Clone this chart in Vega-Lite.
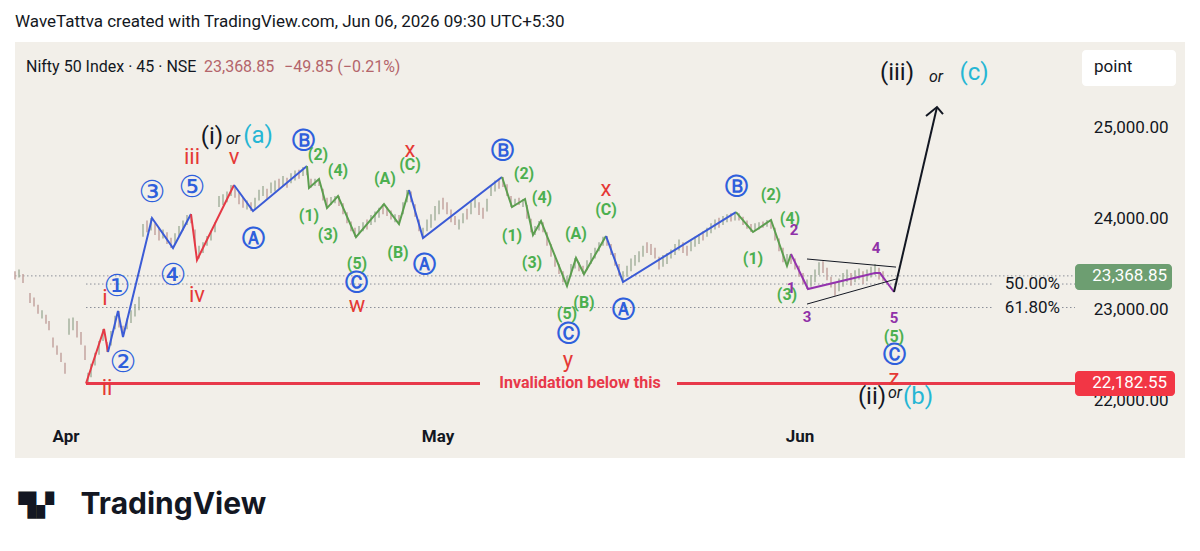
{
  "$schema": "https://vega.github.io/schema/vega-lite/v6.json",
  "autosize": {"type": "none"},
  "width": 1170,
  "height": 416,
  "padding": {"left": 15, "top": 42, "right": 15, "bottom": 93},
  "background": "#ffffff",
  "title": {
    "text": "WaveTattva created with TradingView.com, Jun 06, 2026 09:30 UTC+5:30",
    "anchor": "start",
    "frame": "group",
    "font": "Roboto",
    "fontSize": 17,
    "fontWeight": "normal",
    "color": "#131722",
    "offset": 11
  },
  "config": {
    "view": {"fill": "#f2efe9", "stroke": null},
    "font": "Roboto",
    "axis": {"grid": false}
  },
  "resolve": {"scale": {"color": "independent"}, "axis": {"x": "independent", "y": "independent"}},
  "datasets": {
    "levels": [
      {"p": 23368.85, "t1": 0, "t2": 530},
      {"p": 23279, "t1": 35.5, "t2": 488.5},
      {"p": 23279, "t1": 523.5, "t2": 530},
      {"p": 23020, "t1": 35.5, "t2": 488.5},
      {"p": 23020, "t1": 523.5, "t2": 530}
    ],
    "inval": [
      {"p": 22182.55, "t1": 35.5, "t2": 232.5},
      {"p": 22182.55, "t1": 331, "t2": 530}
    ],
    "months": [
      {"t": 25.5, "m": "Apr"},
      {"t": 211.5, "m": "May"},
      {"t": 392.5, "m": "Jun"}
    ],
    "bars": [
      {"t":0,"l":23330,"h":23420,"u":0},{"t":2,"l":23350,"h":23440,"u":1},{"t":4,"l":23290,"h":23390,"u":0},
      {"t":7.5,"l":23070,"h":23180,"u":0},{"t":9.5,"l":23030,"h":23130,"u":0},{"t":11.5,"l":22950,"h":23050,"u":0},
      {"t":13.5,"l":22900,"h":22990,"u":1},{"t":15.5,"l":22840,"h":22940,"u":0},{"t":17,"l":22770,"h":22870,"u":0},
      {"t":19,"l":22580,"h":22690,"u":0},{"t":21,"l":22500,"h":22600,"u":0},{"t":23,"l":22420,"h":22520,"u":0},
      {"t":25,"l":22290,"h":22410,"u":0},{"t":27,"l":22720,"h":22900,"u":1},{"t":29,"l":22770,"h":22910,"u":1},
      {"t":31,"l":22690,"h":22870,"u":0},{"t":33,"l":22610,"h":22750,"u":0},{"t":35,"l":22440,"h":22600,"u":0},
      {"t":36.5,"l":22182,"h":22300,"u":1},{"t":38,"l":22250,"h":22400,"u":1},{"t":40,"l":22380,"h":22520,"u":1},
      {"t":42,"l":22500,"h":22650,"u":1},{"t":44,"l":22650,"h":22783,"u":1},{"t":46,"l":22529,"h":22640,"u":0},
      {"t":48,"l":22600,"h":22760,"u":1},{"t":50,"l":22780,"h":22930,"u":1},{"t":52,"l":22800,"h":22981,"u":0},
      {"t":54,"l":22694,"h":22820,"u":0},{"t":56,"l":22780,"h":22900,"u":1},{"t":58,"l":22850,"h":22990,"u":1},
      {"t":60,"l":22920,"h":23060,"u":1},{"t":62,"l":22990,"h":23140,"u":1},{"t":64,"l":23800,"h":23940,"u":1},
      {"t":66,"l":23850,"h":23980,"u":0},{"t":68,"l":23870,"h":24007,"u":1},{"t":70,"l":23820,"h":23950,"u":0},
      {"t":72,"l":23760,"h":23900,"u":0},{"t":74,"l":23780,"h":23880,"u":1},{"t":76,"l":23720,"h":23850,"u":0},
      {"t":78,"l":23676,"h":23790,"u":0},{"t":80,"l":23720,"h":23840,"u":1},{"t":82,"l":23800,"h":23920,"u":1},
      {"t":84,"l":23870,"h":23980,"u":1},{"t":86,"l":23930,"h":24040,"u":1},{"t":88,"l":23950,"h":24051,"u":0},
      {"t":90,"l":23700,"h":23880,"u":0},{"t":92,"l":23560,"h":23700,"u":1},{"t":94,"l":23620,"h":23740,"u":1},
      {"t":96,"l":23700,"h":23810,"u":1},{"t":98,"l":23760,"h":23870,"u":1},{"t":100,"l":23850,"h":23960,"u":1},
      {"t":102,"l":24130,"h":24250,"u":1},{"t":104,"l":24150,"h":24270,"u":1},{"t":106,"l":24180,"h":24300,"u":1},
      {"t":108,"l":24250,"h":24371,"u":1},{"t":110,"l":24230,"h":24350,"u":0},{"t":112,"l":24160,"h":24290,"u":0},
      {"t":114,"l":24120,"h":24240,"u":0},{"t":116,"l":24100,"h":24200,"u":1},{"t":118,"l":24084,"h":24180,"u":0},
      {"t":120,"l":24110,"h":24230,"u":1},{"t":122,"l":24200,"h":24320,"u":1},{"t":124,"l":24250,"h":24360,"u":1},
      {"t":126,"l":24220,"h":24330,"u":0},{"t":128,"l":24280,"h":24400,"u":1},{"t":130,"l":24300,"h":24420,"u":1},
      {"t":132,"l":24330,"h":24440,"u":0},{"t":134,"l":24360,"h":24470,"u":1},{"t":136,"l":24340,"h":24450,"u":0},
      {"t":138,"l":24390,"h":24500,"u":1},{"t":140,"l":24420,"h":24530,"u":1},{"t":142,"l":24440,"h":24540,"u":0},
      {"t":144,"l":24470,"h":24570,"u":1},{"t":146,"l":24480,"h":24581,"u":0},{"t":148,"l":24340,"h":24440,"u":0},
      {"t":150,"l":24360,"h":24440,"u":1},{"t":152,"l":24360,"h":24437,"u":0},{"t":154,"l":24200,"h":24330,"u":0},
      {"t":156,"l":24117,"h":24230,"u":0},{"t":158,"l":24150,"h":24240,"u":1},{"t":160,"l":24170,"h":24250,"u":1},
      {"t":162,"l":24140,"h":24250,"u":0},{"t":164,"l":24050,"h":24170,"u":0},{"t":166,"l":23950,"h":24070,"u":0},
      {"t":168,"l":23860,"h":23970,"u":0},{"t":170,"l":23797,"h":23900,"u":0},{"t":172,"l":23830,"h":23920,"u":1},
      {"t":174,"l":23860,"h":23960,"u":1},{"t":176,"l":23880,"h":23990,"u":0},{"t":178,"l":23930,"h":24040,"u":1},
      {"t":180,"l":23960,"h":24080,"u":1},{"t":182,"l":24010,"h":24120,"u":1},{"t":184,"l":24050,"h":24161,"u":0},
      {"t":186,"l":24030,"h":24130,"u":0},{"t":188,"l":23990,"h":24090,"u":0},{"t":190,"l":23960,"h":24050,"u":1},
      {"t":192,"l":23941,"h":24040,"u":0},{"t":194,"l":24050,"h":24180,"u":1},{"t":196,"l":24180,"h":24316,"u":1},
      {"t":198,"l":24180,"h":24300,"u":0},{"t":200,"l":24020,"h":24160,"u":0},{"t":202,"l":23860,"h":23990,"u":0},
      {"t":204,"l":23786,"h":23900,"u":1},{"t":206,"l":23860,"h":23990,"u":1},{"t":208,"l":23900,"h":24050,"u":1},
      {"t":210,"l":23980,"h":24140,"u":1},{"t":212,"l":24050,"h":24200,"u":1},{"t":214,"l":24100,"h":24230,"u":0},
      {"t":216,"l":24050,"h":24180,"u":0},{"t":218,"l":23960,"h":24100,"u":0},{"t":220,"l":23930,"h":24030,"u":0},
      {"t":222,"l":23880,"h":23990,"u":1},{"t":224,"l":23950,"h":24060,"u":1},{"t":226,"l":23990,"h":24110,"u":0},
      {"t":228,"l":24050,"h":24180,"u":1},{"t":230,"l":24120,"h":24230,"u":1},{"t":232,"l":24040,"h":24180,"u":0},
      {"t":234,"l":24000,"h":24120,"u":0},{"t":236,"l":24080,"h":24220,"u":1},{"t":238,"l":24250,"h":24370,"u":1},
      {"t":240,"l":24300,"h":24420,"u":1},{"t":242,"l":24330,"h":24440,"u":0},{"t":244,"l":24350,"h":24459,"u":0},
      {"t":246,"l":24250,"h":24380,"u":0},{"t":248,"l":24128,"h":24250,"u":0},{"t":250,"l":24140,"h":24220,"u":1},
      {"t":252,"l":24150,"h":24230,"u":0},{"t":254,"l":24130,"h":24217,"u":1},{"t":256,"l":24000,"h":24150,"u":0},
      {"t":258,"l":23850,"h":24000,"u":0},{"t":260,"l":23820,"h":23920,"u":1},{"t":262,"l":23870,"h":23974,"u":1},
      {"t":264,"l":23850,"h":23960,"u":0},{"t":266,"l":23700,"h":23850,"u":0},{"t":268,"l":23580,"h":23720,"u":0},
      {"t":270,"l":23470,"h":23600,"u":0},{"t":272,"l":23390,"h":23500,"u":0},{"t":274,"l":23300,"h":23420,"u":0},
      {"t":276,"l":23257,"h":23370,"u":1},{"t":278,"l":23380,"h":23500,"u":1},{"t":280,"l":23450,"h":23566,"u":1},
      {"t":282,"l":23420,"h":23520,"u":0},{"t":284,"l":23389,"h":23480,"u":0},{"t":286,"l":23430,"h":23540,"u":1},
      {"t":288,"l":23500,"h":23620,"u":1},{"t":290,"l":23560,"h":23680,"u":1},{"t":292,"l":23640,"h":23740,"u":1},
      {"t":294,"l":23700,"h":23800,"u":1},{"t":296,"l":23700,"h":23809,"u":0},{"t":298,"l":23600,"h":23720,"u":0},
      {"t":300,"l":23480,"h":23620,"u":0},{"t":302,"l":23370,"h":23500,"u":0},{"t":304,"l":23301,"h":23420,"u":1},
      {"t":306,"l":23360,"h":23480,"u":1},{"t":308,"l":23420,"h":23560,"u":1},{"t":310,"l":23480,"h":23600,"u":1},
      {"t":312,"l":23520,"h":23640,"u":1},{"t":314,"l":23580,"h":23700,"u":1},{"t":316,"l":23620,"h":23740,"u":0},
      {"t":318,"l":23600,"h":23720,"u":0},{"t":320,"l":23560,"h":23680,"u":0},{"t":322,"l":23440,"h":23580,"u":0},
      {"t":324,"l":23470,"h":23600,"u":1},{"t":326,"l":23500,"h":23620,"u":1},{"t":328,"l":23560,"h":23660,"u":1},
      {"t":330,"l":23600,"h":23720,"u":1},{"t":332,"l":23650,"h":23770,"u":1},{"t":334,"l":23620,"h":23740,"u":0},
      {"t":336,"l":23590,"h":23700,"u":0},{"t":338,"l":23640,"h":23750,"u":1},{"t":340,"l":23690,"h":23800,"u":1},
      {"t":342,"l":23720,"h":23830,"u":1},{"t":344,"l":23760,"h":23860,"u":0},{"t":346,"l":23800,"h":23900,"u":1},
      {"t":348,"l":23840,"h":23950,"u":1},{"t":350,"l":23880,"h":23990,"u":1},{"t":352,"l":23900,"h":24010,"u":0},
      {"t":354,"l":23930,"h":24030,"u":1},{"t":356,"l":23960,"h":24050,"u":1},{"t":358,"l":23970,"h":24060,"u":0},
      {"t":360,"l":23980,"h":24073,"u":1},{"t":362,"l":23980,"h":24060,"u":0},{"t":364,"l":23930,"h":24020,"u":0},
      {"t":366,"l":23890,"h":23980,"u":0},{"t":368,"l":23853,"h":23940,"u":0},{"t":370,"l":23870,"h":23950,"u":1},
      {"t":372,"l":23880,"h":23960,"u":1},{"t":374,"l":23900,"h":23970,"u":0},{"t":376,"l":23910,"h":23985,"u":1},
      {"t":378,"l":23890,"h":23980,"u":0},{"t":380,"l":23760,"h":23900,"u":0},{"t":382,"l":23640,"h":23780,"u":0},
      {"t":384,"l":23520,"h":23680,"u":0},{"t":386,"l":23478,"h":23610,"u":1},{"t":388,"l":23500,"h":23610,"u":0},
      {"t":390,"l":23440,"h":23560,"u":0},{"t":392,"l":23360,"h":23480,"u":0},{"t":394,"l":23280,"h":23400,"u":0},
      {"t":396,"l":23224,"h":23330,"u":1},{"t":398,"l":23250,"h":23380,"u":1},{"t":400,"l":23300,"h":23440,"u":1},
      {"t":402,"l":23380,"h":23520,"u":1},{"t":404,"l":23400,"h":23530,"u":0},{"t":406,"l":23320,"h":23460,"u":0},
      {"t":408,"l":23240,"h":23360,"u":0},{"t":410,"l":23150,"h":23290,"u":0},{"t":412,"l":23200,"h":23340,"u":1},
      {"t":414,"l":23250,"h":23400,"u":1},{"t":416,"l":23300,"h":23440,"u":1},{"t":418,"l":23260,"h":23400,"u":0},
      {"t":420,"l":23300,"h":23430,"u":1},{"t":422,"l":23330,"h":23450,"u":1},{"t":424,"l":23280,"h":23420,"u":0},
      {"t":426,"l":23310,"h":23440,"u":1},{"t":428,"l":23350,"h":23470,"u":1},{"t":430,"l":23380,"h":23500,"u":1},
      {"t":432,"l":23330,"h":23460,"u":0},{"t":434,"l":23310,"h":23420,"u":0}
    ],
    "waves": [
      {"s":"r1","c":"red","t":35.5,"p":22182},{"s":"r1","c":"red","t":44.5,"p":22783},{"s":"r1","c":"red","t":46.5,"p":22529},
      {"s":"b1","c":"blue","t":46.5,"p":22529},{"s":"b1","c":"blue","t":51.5,"p":22981},{"s":"b1","c":"blue","t":54,"p":22694},
      {"s":"b1","c":"blue","t":68.5,"p":24007},{"s":"b1","c":"blue","t":79,"p":23676},{"s":"b1","c":"blue","t":88,"p":24051},
      {"s":"r2","c":"red","t":88,"p":24051},{"s":"r2","c":"red","t":91,"p":23544},{"s":"r2","c":"red","t":109.5,"p":24371},
      {"s":"b2","c":"blue","t":109.5,"p":24371},{"s":"b2","c":"blue","t":119,"p":24084},{"s":"b2","c":"blue","t":146,"p":24581},
      {"s":"g1","c":"green","t":146,"p":24581},{"s":"g1","c":"green","t":147,"p":24338},{"s":"g1","c":"green","t":152,"p":24437},
      {"s":"g1","c":"green","t":156,"p":24117},{"s":"g1","c":"green","t":161.5,"p":24250},{"s":"g1","c":"green","t":170.5,"p":23797},
      {"s":"g1","c":"green","t":184.5,"p":24161},{"s":"g1","c":"green","t":192,"p":23941},{"s":"g1","c":"green","t":197,"p":24316},
      {"s":"b3","c":"blue","t":197,"p":24316},{"s":"b3","c":"blue","t":204,"p":23786},{"s":"b3","c":"blue","t":243.5,"p":24459},
      {"s":"g2","c":"green","t":243.5,"p":24459},{"s":"g2","c":"green","t":248.5,"p":24128},{"s":"g2","c":"green","t":255,"p":24217},
      {"s":"g2","c":"green","t":259,"p":23820},{"s":"g2","c":"green","t":263,"p":23974},{"s":"g2","c":"green","t":276,"p":23257},
      {"s":"g2","c":"green","t":280.5,"p":23566},{"s":"g2","c":"green","t":284.5,"p":23389},{"s":"g2","c":"green","t":295.5,"p":23809},
      {"s":"b4","c":"blue","t":295.5,"p":23809},{"s":"b4","c":"blue","t":304,"p":23301},{"s":"b4","c":"blue","t":360.5,"p":24073},
      {"s":"g3","c":"green","t":360.5,"p":24073},{"s":"g3","c":"green","t":369,"p":23853},{"s":"g3","c":"green","t":378,"p":23985},
      {"s":"g3","c":"green","t":386,"p":23478},{"s":"g3","c":"green","t":388,"p":23610},
      {"s":"p1","c":"purple","t":388,"p":23610},{"s":"p1","c":"purple","t":396.5,"p":23224},{"s":"p1","c":"purple","t":430,"p":23400},
      {"s":"p1","c":"purple","t":432.5,"p":23400},{"s":"p1","c":"purple","t":439.5,"p":23191},
      {"s":"k1","c":"black","t":439.5,"p":23191},{"s":"k1","c":"black","t":461,"p":25231},
      {"s":"k2","c":"black","t":455.5,"p":25132},{"s":"k2","c":"black","t":461,"p":25231},{"s":"k2","c":"black","t":464,"p":25154}
    ],
    "tri": [
      {"s":"up","t":396,"p":23555},{"s":"up","t":440.5,"p":23466},
      {"s":"lo","t":396,"p":23058},{"s":"lo","t":440.5,"p":23334}
    ],
    "boxes": [
      {"k":"last","t1":530,"t2":578.5,"p1":23213,"p2":23500},
      {"k":"inv","t1":530,"t2":580,"p1":22043,"p2":22319},
      {"k":"btn","t1":533.5,"t2":580.5,"p1":25463,"p2":25860}
    ],
    "labels": [
      {"k":"red","t":45,"p":23125,"txt":"i"},
      {"k":"red","t":46,"p":22132,"txt":"ii"},
      {"k":"red","t":88.5,"p":24680,"txt":"iii"},
      {"k":"red","t":91,"p":23158,"txt":"iv"},
      {"k":"red","t":109.5,"p":24680,"txt":"v"},
      {"k":"red","t":171,"p":23047,"txt":"w"},
      {"k":"red","t":197.5,"p":24752,"txt":"x"},
      {"k":"red","t":295.5,"p":24327,"txt":"x"},
      {"k":"red","t":276.5,"p":22441,"txt":"y"},
      {"k":"red","t":439.5,"p":22242,"txt":"z"},
      {"k":"bnum","t":51,"p":23246,"txt":"①"},
      {"k":"bnum","t":54,"p":22408,"txt":"②"},
      {"k":"bnum","t":68.5,"p":24283,"txt":"③"},
      {"k":"bnum","t":79,"p":23367,"txt":"④"},
      {"k":"bnum","t":88.5,"p":24338,"txt":"⑤"},
      {"k":"blue","t":119,"p":23775,"txt":"Ⓐ"},
      {"k":"blue","t":144,"p":24856,"txt":"Ⓑ"},
      {"k":"blue","t":170.5,"p":23290,"txt":"Ⓒ"},
      {"k":"blue","t":204.5,"p":23489,"txt":"Ⓐ"},
      {"k":"blue","t":243.5,"p":24746,"txt":"Ⓑ"},
      {"k":"blue","t":276.5,"p":22727,"txt":"Ⓒ"},
      {"k":"blue","t":304,"p":22992,"txt":"Ⓐ"},
      {"k":"blue","t":360.5,"p":24349,"txt":"Ⓑ"},
      {"k":"blue","t":439.5,"p":22496,"txt":"Ⓒ"},
      {"k":"green","t":151.5,"p":24702,"txt":"(2)"},
      {"k":"green","t":161.5,"p":24526,"txt":"(4)"},
      {"k":"green","t":147,"p":24029,"txt":"(1)"},
      {"k":"green","t":156.5,"p":23820,"txt":"(3)"},
      {"k":"green","t":171,"p":23500,"txt":"(5)"},
      {"k":"green","t":197.5,"p":24592,"txt":"(C)"},
      {"k":"green","t":185,"p":24437,"txt":"(A)"},
      {"k":"green","t":191.5,"p":23621,"txt":"(B)"},
      {"k":"green","t":254.5,"p":24492,"txt":"(2)"},
      {"k":"green","t":263.5,"p":24228,"txt":"(4)"},
      {"k":"green","t":248.5,"p":23809,"txt":"(1)"},
      {"k":"green","t":258.5,"p":23511,"txt":"(3)"},
      {"k":"green","t":295.5,"p":24095,"txt":"(C)"},
      {"k":"green","t":280.5,"p":23831,"txt":"(A)"},
      {"k":"green","t":284.5,"p":23069,"txt":"(B)"},
      {"k":"green","t":276,"p":22948,"txt":"(5)"},
      {"k":"green","t":378,"p":24261,"txt":"(2)"},
      {"k":"green","t":387.5,"p":23996,"txt":"(4)"},
      {"k":"green","t":369,"p":23555,"txt":"(1)"},
      {"k":"green","t":386,"p":23158,"txt":"(3)"},
      {"k":"green","t":439.5,"p":22694,"txt":"(5)"},
      {"k":"purple","t":389.5,"p":23875,"txt":"2"},
      {"k":"purple","t":388,"p":23235,"txt":"1"},
      {"k":"purple","t":396,"p":22915,"txt":"3"},
      {"k":"purple","t":430.5,"p":23676,"txt":"4"},
      {"k":"purple","t":439.5,"p":22904,"txt":"5"},
      {"k":"deg","t":98.5,"p":24900,"txt":"(i)"},
      {"k":"alt","t":121.5,"p":24912,"txt":"(a)"},
      {"k":"deg","t":428.5,"p":22033,"txt":"(ii)"},
      {"k":"alt","t":451.5,"p":22033,"txt":"(b)"},
      {"k":"deg","t":441,"p":25607,"txt":"(iii)"},
      {"k":"alt","t":479.5,"p":25607,"txt":"(c)"},
      {"k":"or","t":109,"p":24879,"txt":"or"},
      {"k":"or","t":440,"p":22077,"txt":"or"},
      {"k":"or","t":460.5,"p":25562,"txt":"or"},
      {"k":"inv","t":282.5,"p":22182.55,"txt":"Invalidation below this"},
      {"k":"fib","t":522.5,"p":23279,"txt":"50.00%"},
      {"k":"fib","t":522.5,"p":23020,"txt":"61.80%"},
      {"k":"hdr","t":5.5,"p":25673,"txt":"Nifty 50 Index · 45 · NSE"},
      {"k":"chg","t":94.5,"p":25673,"txt":"23,368.85"},
      {"k":"chg","t":134.5,"p":25673,"txt":"−49.85 (−0.21%)"},
      {"k":"boxt","t":576,"p":23368.85,"txt":"23,368.85"},
      {"k":"boxt","t":576,"p":22182.55,"txt":"22,182.55"},
      {"k":"btn","t":539.5,"p":25673,"txt":"point"}
    ]
  },
  "layer": [
    {
      "data": {"name": "levels"},
      "mark": {"type": "rule", "strokeDash": [1.5, 2.5], "strokeWidth": 1, "color": "#8c8f99"},
      "encoding": {
        "x": {
          "field": "t1", "type": "quantitative",
          "scale": {"domain": [0, 585], "nice": false, "zero": false},
          "axis": {
            "orient": "bottom", "labels": false, "domain": false, "ticks": false, "grid": false,
            "title": "TradingView", "titleX": 65, "titleY": 46, "titleAlign": "left", "titleAnchor": "start",
            "titleBaseline": "middle", "titleFont": "Inter", "titleFontSize": 30, "titleFontWeight": "bold",
            "titleColor": "#131722", "titlePadding": 0, "zindex": 2
          }
        },
        "x2": {"field": "t2"},
        "y": {
          "field": "p", "type": "quantitative",
          "scale": {"domain": [21360.3, 25948.5], "nice": false, "zero": false},
          "axis": {
            "orient": "right", "values": [22000, 23000, 24000, 25000], "format": ",.2f",
            "domain": false, "ticks": false, "tickSize": 0, "grid": false,
            "labelAlign": "right", "labelPadding": -17, "labelFont": "Roboto", "labelFontSize": 17,
            "labelColor": "#131722", "title": null
          }
        }
      }
    },
    {
      "data": {"name": "bars"},
      "mark": {"type": "rule", "strokeWidth": 1.4},
      "encoding": {
        "x": {"field": "t", "type": "quantitative", "axis": null},
        "y": {
          "field": "l", "type": "quantitative",
          "axis": {
            "orient": "left", "labels": false, "ticks": false, "domain": false, "grid": false,
            "title": "▜▞", "titleAngle": 0, "titleX": 3, "titleY": 463, "titleAlign": "left",
            "titleBaseline": "middle", "titleFont": "DejaVu Sans", "titleFontSize": 23,
            "titleColor": "#131722", "titlePadding": 0
          }
        },
        "y2": {"field": "h"},
        "color": {"condition": {"test": "datum.u == 1", "value": "#a0ae99"}, "value": "#c09f9a"}
      }
    },
    {
      "data": {"name": "months"},
      "mark": {"type": "text", "align": "center", "baseline": "middle", "font": "Roboto", "fontSize": 17, "fontWeight": "bold", "color": "#131722"},
      "encoding": {
        "x": {"field": "t", "type": "quantitative", "axis": null},
        "y": {"datum": 21591, "type": "quantitative", "axis": null},
        "text": {"field": "m"}
      }
    },
    {
      "data": {"name": "inval"},
      "mark": {"type": "rule", "strokeWidth": 3, "color": "#e8394a"},
      "encoding": {
        "x": {"field": "t1", "type": "quantitative", "axis": null},
        "x2": {"field": "t2"},
        "y": {"field": "p", "type": "quantitative", "axis": null}
      }
    },
    {
      "data": {"name": "waves"},
      "mark": {"type": "line", "strokeWidth": 2},
      "encoding": {
        "x": {"field": "t", "type": "quantitative", "axis": null},
        "y": {"field": "p", "type": "quantitative", "axis": null},
        "detail": {"field": "s"},
        "color": {
          "field": "c", "type": "nominal", "legend": null,
          "scale": {"domain": ["red", "blue", "green", "purple", "black"], "range": ["#e53945", "#3b5bd6", "#5c9e4f", "#9433ae", "#131722"]}
        }
      }
    },
    {
      "data": {"name": "tri"},
      "mark": {"type": "line", "strokeWidth": 1, "color": "#131722"},
      "encoding": {
        "x": {"field": "t", "type": "quantitative", "axis": null},
        "y": {"field": "p", "type": "quantitative", "axis": null},
        "detail": {"field": "s"}
      }
    },
    {
      "data": {"name": "boxes"},
      "mark": {"type": "rect", "cornerRadius": 4},
      "encoding": {
        "x": {"field": "t1", "type": "quantitative", "axis": null},
        "x2": {"field": "t2"},
        "y": {"field": "p1", "type": "quantitative", "axis": null},
        "y2": {"field": "p2"},
        "color": {
          "field": "k", "type": "nominal", "legend": null,
          "scale": {"domain": ["last", "inv", "btn"], "range": ["#6d9e71", "#f23645", "#ffffff"]}
        }
      }
    },
    {
      "data": {"name": "labels"},
      "transform": [{"filter": "datum.k == 'red'"}],
      "mark": {"type": "text", "align": "center", "baseline": "middle", "font": "Roboto", "fontSize": 22, "color": "#e53935"},
      "encoding": {
        "x": {"field": "t", "type": "quantitative", "axis": null},
        "y": {"field": "p", "type": "quantitative", "axis": null},
        "text": {"field": "txt"}
      }
    },
    {
      "data": {"name": "labels"},
      "transform": [{"filter": "datum.k == 'blue'"}],
      "mark": {"type": "text", "align": "center", "baseline": "middle", "font": "DejaVu Sans", "fontSize": 23, "fontWeight": "bold", "color": "#2f5fdc"},
      "encoding": {
        "x": {"field": "t", "type": "quantitative", "axis": null},
        "y": {"field": "p", "type": "quantitative", "axis": null},
        "text": {"field": "txt"}
      }
    },
    {
      "data": {"name": "labels"},
      "transform": [{"filter": "datum.k == 'bnum'"}],
      "mark": {"type": "text", "align": "center", "baseline": "middle", "font": "DejaVu Sans", "fontSize": 30, "color": "#2f5fdc"},
      "encoding": {
        "x": {"field": "t", "type": "quantitative", "axis": null},
        "y": {"field": "p", "type": "quantitative", "axis": null},
        "text": {"field": "txt"}
      }
    },
    {
      "data": {"name": "labels"},
      "transform": [{"filter": "datum.k == 'green'"}],
      "mark": {"type": "text", "align": "center", "baseline": "middle", "font": "Roboto", "fontSize": 16, "fontWeight": "bold", "color": "#4caf50"},
      "encoding": {
        "x": {"field": "t", "type": "quantitative", "axis": null},
        "y": {"field": "p", "type": "quantitative", "axis": null},
        "text": {"field": "txt"}
      }
    },
    {
      "data": {"name": "labels"},
      "transform": [{"filter": "datum.k == 'purple'"}],
      "mark": {"type": "text", "align": "center", "baseline": "middle", "font": "Roboto", "fontSize": 15, "fontWeight": "bold", "color": "#9031a8"},
      "encoding": {
        "x": {"field": "t", "type": "quantitative", "axis": null},
        "y": {"field": "p", "type": "quantitative", "axis": null},
        "text": {"field": "txt"}
      }
    },
    {
      "data": {"name": "labels"},
      "transform": [{"filter": "datum.k == 'deg' || datum.k == 'alt'"}],
      "mark": {"type": "text", "align": "center", "baseline": "middle", "font": "Roboto", "fontSize": 24},
      "encoding": {
        "x": {"field": "t", "type": "quantitative", "axis": null},
        "y": {"field": "p", "type": "quantitative", "axis": null},
        "text": {"field": "txt"},
        "color": {
          "field": "k", "type": "nominal", "legend": null,
          "scale": {"domain": ["deg", "alt"], "range": ["#131722", "#26b6d4"]}
        }
      }
    },
    {
      "data": {"name": "labels"},
      "transform": [{"filter": "datum.k == 'or'"}],
      "mark": {"type": "text", "align": "center", "baseline": "middle", "font": "Roboto", "fontSize": 16, "fontStyle": "italic", "color": "#131722"},
      "encoding": {
        "x": {"field": "t", "type": "quantitative", "axis": null},
        "y": {"field": "p", "type": "quantitative", "axis": null},
        "text": {"field": "txt"}
      }
    },
    {
      "data": {"name": "labels"},
      "transform": [{"filter": "datum.k == 'inv'"}],
      "mark": {"type": "text", "align": "center", "baseline": "middle", "font": "Roboto", "fontSize": 16, "fontWeight": "bold", "color": "#e8394a"},
      "encoding": {
        "x": {"field": "t", "type": "quantitative", "axis": null},
        "y": {"field": "p", "type": "quantitative", "axis": null},
        "text": {"field": "txt"}
      }
    },
    {
      "data": {"name": "labels"},
      "transform": [{"filter": "datum.k == 'fib'"}],
      "mark": {"type": "text", "align": "right", "baseline": "middle", "font": "Roboto", "fontSize": 17, "color": "#131722"},
      "encoding": {
        "x": {"field": "t", "type": "quantitative", "axis": null},
        "y": {"field": "p", "type": "quantitative", "axis": null},
        "text": {"field": "txt"}
      }
    },
    {
      "data": {"name": "labels"},
      "transform": [{"filter": "datum.k == 'hdr' || datum.k == 'chg'"}],
      "mark": {"type": "text", "align": "left", "baseline": "middle", "font": "Roboto", "fontSize": 16},
      "encoding": {
        "x": {"field": "t", "type": "quantitative", "axis": null},
        "y": {"field": "p", "type": "quantitative", "axis": null},
        "text": {"field": "txt"},
        "color": {
          "field": "k", "type": "nominal", "legend": null,
          "scale": {"domain": ["hdr", "chg"], "range": ["#131722", "#b4656b"]}
        }
      }
    },
    {
      "data": {"name": "labels"},
      "transform": [{"filter": "datum.k == 'boxt'"}],
      "mark": {"type": "text", "align": "right", "baseline": "middle", "font": "Roboto", "fontSize": 17, "color": "#ffffff"},
      "encoding": {
        "x": {"field": "t", "type": "quantitative", "axis": null},
        "y": {"field": "p", "type": "quantitative", "axis": null},
        "text": {"field": "txt"}
      }
    },
    {
      "data": {"name": "labels"},
      "transform": [{"filter": "datum.k == 'btn'"}],
      "mark": {"type": "text", "align": "left", "baseline": "middle", "font": "Roboto", "fontSize": 17, "color": "#131722"},
      "encoding": {
        "x": {"field": "t", "type": "quantitative", "axis": null},
        "y": {"field": "p", "type": "quantitative", "axis": null},
        "text": {"field": "txt"}
      }
    }
  ]
}
